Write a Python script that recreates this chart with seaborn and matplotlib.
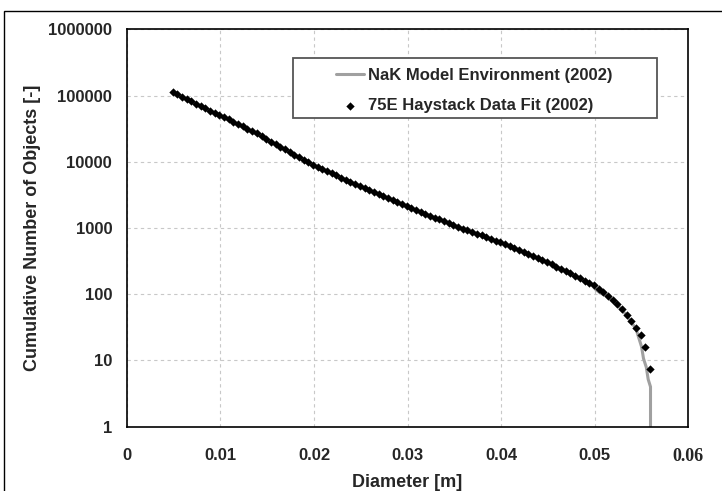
import matplotlib
matplotlib.use("Agg")
import matplotlib.pyplot as plt
from matplotlib.patches import Rectangle
from matplotlib.ticker import FixedLocator, LogLocator, NullFormatter
import seaborn as sns
import pandas as pd


# 75E Haystack data fit (dots)
fit_diameter = [
    0.0049, 0.0054, 0.0059, 0.0064, 0.0069, 0.0074, 0.0079, 0.0084, 0.0089, 0.0094,
    0.0099, 0.0104, 0.0109, 0.0114, 0.0119, 0.0124, 0.0129, 0.0134, 0.0139, 0.0144,
    0.0149, 0.0154, 0.0159, 0.0164, 0.0169, 0.0174, 0.0179, 0.0184, 0.0189, 0.0194,
    0.0199, 0.0204, 0.0209, 0.0214, 0.0219, 0.0224, 0.0229, 0.0234, 0.0239, 0.0244,
    0.0249, 0.0254, 0.0259, 0.0264, 0.0269, 0.0274, 0.0279, 0.0284, 0.0289, 0.0294,
    0.0299, 0.0304, 0.0309, 0.0314, 0.0319, 0.0324, 0.0329, 0.0334, 0.0339, 0.0344,
    0.0349, 0.0354, 0.0359, 0.0364, 0.0369, 0.0374, 0.0379, 0.0384, 0.0389, 0.0394,
    0.0399, 0.0404, 0.0409, 0.0414, 0.0419, 0.0424, 0.0429, 0.0434, 0.0439, 0.0444,
    0.0449, 0.0454, 0.0459, 0.0464, 0.0469, 0.0474, 0.0479, 0.0484, 0.0489, 0.0494,
    0.0499, 0.0504, 0.0509, 0.0514, 0.0519, 0.0524, 0.0529, 0.0534, 0.0539, 0.0544,
    0.0549, 0.0554, 0.0559,
]
fit_count = [
    114000, 105000, 97000, 89300, 82300, 75900, 69800, 64400, 59300, 54700,
    50300, 48000, 44200, 40600, 37400, 34400, 31700, 29200, 26900, 24700,
    22000, 20100, 18400, 16900, 15400, 14100, 12900, 11800, 10800, 9910,
    9070, 8400, 7800, 7240, 6720, 6240, 5800, 5380, 5000, 4640,
    4310, 4010, 3740, 3480, 3240, 3020, 2810, 2620, 2440, 2280,
    2120, 1990, 1860, 1750, 1640, 1530, 1440, 1350, 1260, 1190,
    1110, 1045, 984, 927, 873, 821, 773, 728, 685, 645,
    607, 568, 530, 495, 462, 432, 403, 376, 351, 328,
    306, 284, 262, 243, 224, 207, 190, 175, 161, 148,
    136, 121, 107, 94.2, 83.1, 70.4, 58.9, 49.3, 38.9, 30.9,
    24.0, 16.2, 7.4,
]

# NaK model environment (grey line)
model_diameter = [
    0.0049, 0.0100, 0.0150, 0.0200, 0.0250, 0.0300, 0.0350, 0.0400, 0.0450, 0.0470,
    0.0496, 0.0501, 0.0506, 0.0512, 0.0520, 0.0534, 0.0544, 0.0550, 0.0552, 0.0555,
    0.0557, 0.05595, 0.05595,
]
model_count = [
    114000, 49500, 21600, 8900, 4250, 2090, 1100, 600, 300, 221,
    142, 118, 104, 96, 80, 48, 30, 16, 10.7, 7.9,
    5.2, 4.0, 1.0,
]

x_ticks = [0, 0.01, 0.02, 0.03, 0.04, 0.05, 0.06]
x_tick_labels = ["0", "0.01", "0.02", "0.03", "0.04", "0.05", "0.06"]
y_ticks = [1, 10, 100, 1000, 10000, 100000, 1000000]
y_tick_labels = ["1", "10", "100", "1000", "10000", "100000", "1000000"]

model_name = "NaK Model Environment (2002)"
fit_name = "75E Haystack Data Fit (2002)"

sns.set_theme(style="white")
plt.rcParams["font.family"] = ["Liberation Sans", "DejaVu Sans"]
plt.rcParams["font.weight"] = "bold"

fig = plt.figure(figsize=(7.22, 4.91), dpi=100)
ax = fig.add_axes([0.1755, 0.131, 0.778, 0.809])

df_model = pd.DataFrame({"Diameter": model_diameter, "Count": model_count})
df_fit = pd.DataFrame({"Diameter": fit_diameter, "Count": fit_count})

sns.lineplot(data=df_model, x="Diameter", y="Count", color="#a0a0a0", linewidth=2.2,
             sort=False, estimator=None, ax=ax, label=model_name)
sns.scatterplot(data=df_fit, x="Diameter", y="Count", color="black", marker="D", s=18,
                linewidth=0, ax=ax, label=fit_name, zorder=3)

ax.set_yscale("log")
ax.set_xlim(0, 0.06)
ax.set_ylim(1, 1000000)

ax.set_xticks(x_ticks)
ax.set_xticklabels(x_tick_labels)
ax.xaxis.set_minor_locator(FixedLocator([0.005, 0.015, 0.025, 0.035, 0.045, 0.055]))
ax.set_yticks(y_ticks)
ax.set_yticklabels(y_tick_labels)
ax.yaxis.set_minor_locator(LogLocator(base=10, subs=range(2, 10)))
ax.yaxis.set_minor_formatter(NullFormatter())

ax.tick_params(axis="both", which="major", direction="inout", length=7, width=1,
               color="black", labelsize=12, pad=7)
ax.tick_params(axis="both", which="minor", direction="in", length=4, width=0.8,
               color="black")
ax.tick_params(axis="x", which="major", pad=12)

for lbl in ax.get_xticklabels() + ax.get_yticklabels():
    lbl.set_fontweight("bold")
ax.get_xticklabels()[-1].set_fontfamily("Liberation Serif")
ax.get_xticklabels()[-1].set_fontsize(13)

ax.grid(True, which="major", linestyle=(0, (3, 3)), color="#c8c8c8", linewidth=0.8)
for side in ["left", "bottom", "top", "right"]:
    ax.spines[side].set_visible(True)
    ax.spines[side].set_color("black")
    ax.spines[side].set_linewidth(1.2)

ax.set_xlabel("Diameter [m]", fontsize=13, fontweight="bold", labelpad=6)
ax.set_ylabel("Cumulative Number of Objects [-]", fontsize=13, fontweight="bold", labelpad=5)

# legend box drawn as patch, legend itself without frame
ax.add_patch(Rectangle((0.296, 0.777), 0.648, 0.151, transform=ax.transAxes,
                       facecolor="white", edgecolor="#555555", linewidth=1.3, zorder=4))
leg = ax.legend(loc="upper left", bbox_to_anchor=(0.358, 0.925), frameon=False,
                fontsize=12, handlelength=1.7, handletextpad=0.2, borderpad=0,
                labelspacing=0.95, markerscale=1.0)
leg.set_zorder(5)
for t in leg.get_texts():
    t.set_fontweight("bold")

# outer frame of the picture
fig.patches.append(Rectangle((4 / 722, -0.2), 1.2, 1.2 - 10.5 / 491, transform=fig.transFigure,
                             fill=False, edgecolor="black", linewidth=1.0))

fig.savefig("out.png", dpi=100)
